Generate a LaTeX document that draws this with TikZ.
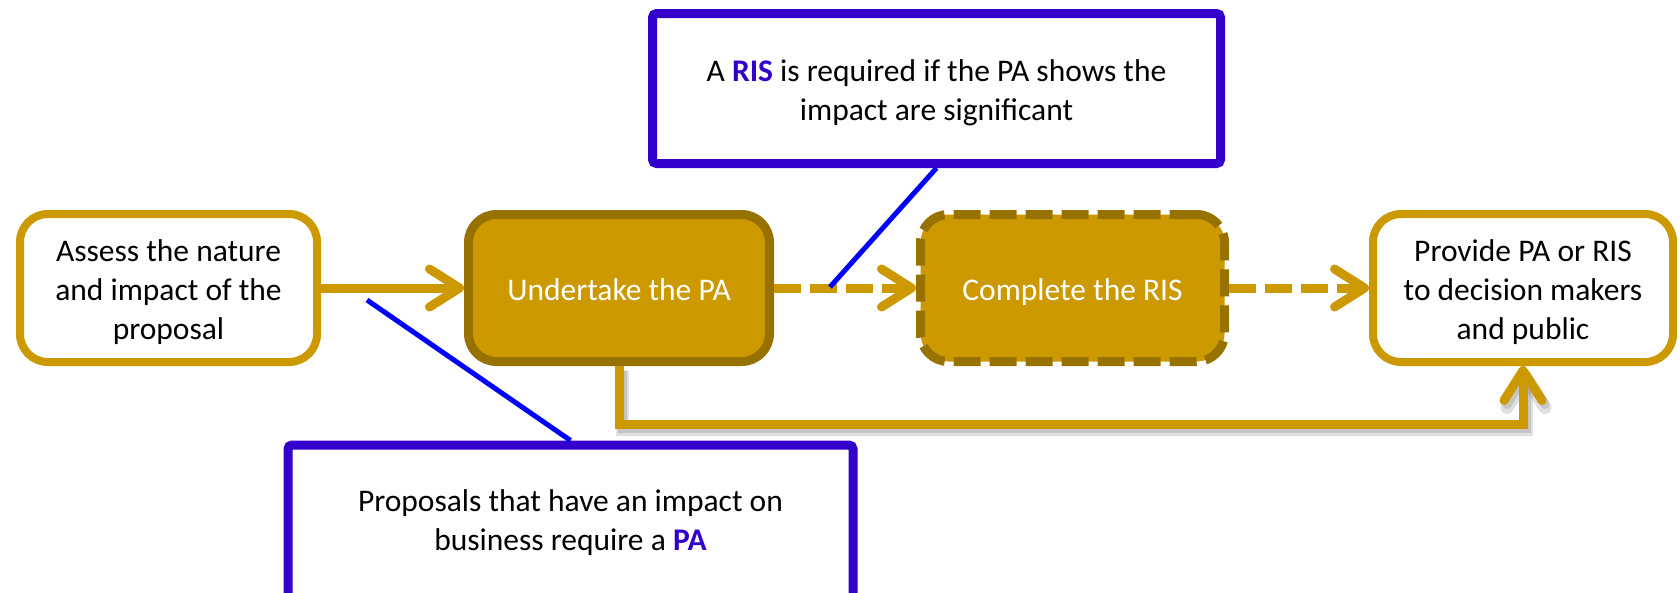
\documentclass[tikz,border=0pt]{standalone}
\usepackage{fontspec}
\setmainfont{Carlito}
\usetikzlibrary{arrows.meta}
\definecolor{gold}{HTML}{CC9900}
\definecolor{darkgold}{HTML}{987200}
\definecolor{noteblue}{HTML}{3300CC}
\definecolor{linkblue}{HTML}{0000FF}
% highlighted key term inside the callouts
\newcommand{\keyterm}[1]{\textcolor{noteblue}{\bfseries #1}}
% centred block of lines, drawn a little below the box centre
\newcommand{\stack}[1]{\raisebox{-5pt}[\height][\depth]{\begin{tabular}{@{}c@{}}#1\end{tabular}}}
\begin{document}
\begin{tikzpicture}[x=1pt, y=-1pt,
  font=\fontsize{31.5}{39}\selectfont,
  stepbox/.style={draw=gold, line width=8pt, fill=white, rounded corners=28pt,
    minimum width=297pt, minimum height=148pt, align=center, inner sep=0pt, text=black},
  actbox/.style={draw=darkgold, fill=gold, line width=9pt, rounded corners=28pt,
    minimum width=301pt, minimum height=147pt, align=center, inner sep=0pt, text=white},
  dashbox/.style={actbox, dash pattern=on 27pt off 9pt},
  notebox/.style={draw=noteblue, line width=9pt, rounded corners=4pt, fill=white,
    align=center, inner sep=0pt, text=black},
  flow/.style={draw=gold, line width=9pt, -{Straight Barb[length=30pt,width=38pt,round]}},
  dashflow/.style={flow, dash pattern=on 27pt off 9pt},
  shade/.style={draw=black, line width=9pt, opacity=0.12, -{Straight Barb[length=30pt,width=38pt,round]}},
  link/.style={draw=linkblue, line width=5pt}]
\useasboundingbox (0,0) rectangle (1680,592);
\clip (0,0) rectangle (1680,592);

% process steps
\node[stepbox] (assess) at (168.5,288) {\stack{Assess the nature\\and impact of the\\proposal}};
\node[actbox] (pa) at (619,288) {\stack{Undertake the PA}};
\node[dashbox, minimum width=304pt] (ris) at (1072.5,288) {\stack{Complete the RIS}};
\node[stepbox, minimum width=300pt] (provide) at (1523,288) {\stack{Provide PA or RIS\\to decision makers\\and public}};

% soft shadow under the bypass route
\draw[shade, line width=13pt] ([xshift=3pt,yshift=-5pt]pa.south) -- ++(0,58) -| ([xshift=3pt,yshift=-5pt]provide.south);
\draw[shade] ([xshift=3pt,yshift=-4pt]pa.south) -- ++(0,58) -| ([xshift=3pt,yshift=-4pt]provide.south);

% flow connectors
\draw[flow] (assess.east) -- (pa.west);
\draw[dashflow] (pa.east) -- (ris.west);
\draw[dashflow] (ris.east) -- (provide.west);
\draw[flow] (pa.south) -- ++(0,58) -| (provide.south);

% callout pointers
\coordinate (risTip) at (830,287);
\coordinate (paTip) at (367,300);

% callouts
\node[notebox, minimum width=568pt, minimum height=150pt] (risnote) at (936.5,88.5)
  {\stack{A \keyterm{RIS} is required if the PA shows the\\impact are significant}};
\node[notebox, minimum width=565pt, minimum height=156pt] (panote) at (570.5,523)
  {Proposals that have an impact on\\business require a \keyterm{PA}};

\draw[link] (risnote.south) -- (risTip);
\draw[link] (panote.north) -- (paTip);
\end{tikzpicture}
\end{document}
